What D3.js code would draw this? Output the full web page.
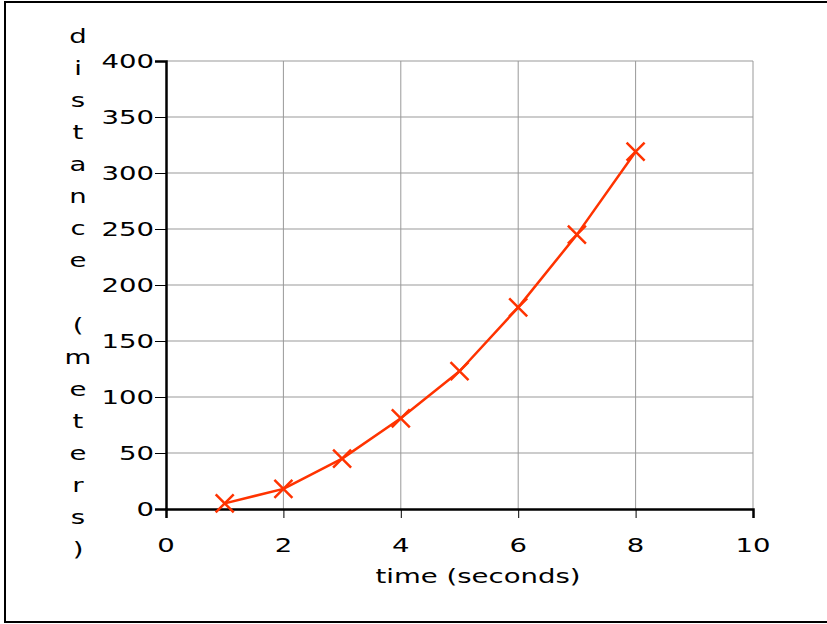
<!DOCTYPE html>
<html>
<head>
<meta charset="utf-8">
<script src="https://cdn.jsdelivr.net/npm/d3@7"></script>
<style>
  body { margin: 0; background: #fff; }
  text { font-family: "DejaVu Sans", Verdana, sans-serif; fill: #000; }
</style>
</head>
<body>
<div id="chart"></div>
<script>
const width = 827;
const height = 624;

// data
const times = [1, 2, 3, 4, 5, 6, 7, 8];
const distances = [5, 18, 45, 81, 123, 180, 245, 319];
const xTicks = [0, 2, 4, 6, 8, 10];
const yTicks = [0, 50, 100, 150, 200, 250, 300, 350, 400];
const xLabel = 'time (seconds)';
const yLabel = 'distance (meters)';

const lineColor = '#ff3300';
const gridColor = '#999999';
const stretch = 1.45;   // the original text is drawn wide

const svg = d3.select('#chart')
    .append('svg')
    .attr('width', width)
    .attr('height', height);

// outer frame
svg.append('rect')
    .attr('x', 5).attr('y', 2)
    .attr('width', 830).attr('height', 620)
    .attr('fill', 'none')
    .attr('stroke', '#000')
    .attr('stroke-width', 2);

const xScale = d3.scaleLinear().domain([0, 10]).range([166, 753]);
const yScale = d3.scaleLinear().domain([0, 400]).range([509, 61]);

// grid
svg.append('g')
    .selectAll('line')
    .data(xTicks.slice(1))
    .enter()
    .append('line')
    .attr('x1', d => xScale(d)).attr('x2', d => xScale(d))
    .attr('y1', yScale(0)).attr('y2', yScale(400))
    .attr('stroke', gridColor)
    .attr('stroke-width', 1);

svg.append('g')
    .selectAll('line')
    .data(yTicks.slice(1))
    .enter()
    .append('line')
    .attr('x1', xScale(0)).attr('x2', xScale(10))
    .attr('y1', d => yScale(d)).attr('y2', d => yScale(d))
    .attr('stroke', gridColor)
    .attr('stroke-width', 1);

// stretched text helper
function wideText(g, x, y, str, anchor) {
    g.append('g')
        .attr('transform', 'translate(' + x + ',' + y + ') scale(' + stretch + ',1)')
        .append('text')
        .attr('text-anchor', anchor)
        .attr('font-size', 19)
        .text(str);
}

// axes
const xAxis = svg.append('g')
    .attr('transform', 'translate(0,' + yScale(0) + ')')
    .call(d3.axisBottom(xScale).tickValues(xTicks).tickSize(9).tickFormat(''));
const yAxis = svg.append('g')
    .attr('transform', 'translate(' + xScale(0) + ',0)')
    .call(d3.axisLeft(yScale).tickValues(yTicks).tickSize(11).tickFormat(''));

[xAxis, yAxis].forEach(function(a) {
    a.select('.domain').attr('stroke', '#000').attr('stroke-width', 2.5);
    a.selectAll('.tick line').attr('stroke', '#000').attr('stroke-width', 1);
});

const labels = svg.append('g');
xTicks.forEach(function(t) {
    wideText(labels, xScale(t), 552, String(t), 'middle');
});
yTicks.forEach(function(t) {
    wideText(labels, 154, yScale(t) + 7, String(t), 'end');
});

// axis titles
wideText(labels, 478, 583, xLabel, 'middle');

const yChars = yLabel.split('');
yChars.forEach(function(c, i) {
    if (c === ' ') return;
    wideText(labels, 78, 43 + i * 32.06, c, 'middle');
});

// series line
const line = d3.line()
    .x((d, i) => xScale(times[i]))
    .y(d => yScale(d));

svg.append('path')
    .datum(distances)
    .attr('d', line)
    .attr('fill', 'none')
    .attr('stroke', lineColor)
    .attr('stroke-width', 2.5)
    .attr('stroke-linejoin', 'round');

// cross markers
const m = 9;
svg.append('g')
    .selectAll('.marker')
    .data(distances)
    .enter()
    .append('path')
    .attr('class', 'marker')
    .attr('d', function(d, i) {
        const cx = xScale(times[i]);
        const cy = yScale(d);
        return 'M' + (cx - m) + ',' + (cy - m) + 'L' + (cx + m) + ',' + (cy + m) +
               'M' + (cx - m) + ',' + (cy + m) + 'L' + (cx + m) + ',' + (cy - m);
    })
    .attr('stroke', lineColor)
    .attr('stroke-width', 2.5)
    .attr('fill', 'none');
</script>
</body>
</html>
